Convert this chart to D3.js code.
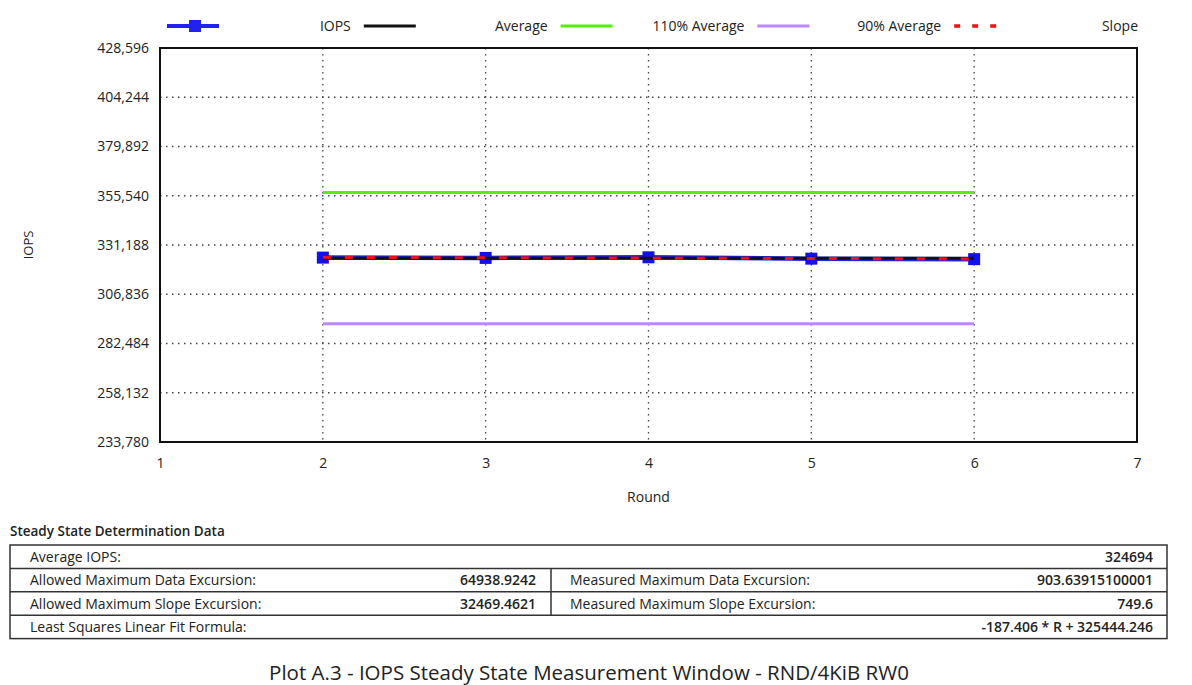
<!DOCTYPE html>
<html>
<head>
<meta charset="utf-8">
<script src="https://cdn.jsdelivr.net/npm/d3@7"></script>
<style>
  body { margin: 0; background: #fff; font-family: "Open Sans", sans-serif; }
  svg text { font-family: "Open Sans", sans-serif; fill: #222; }
</style>
</head>
<body>
<div id="chart"></div>
<script>
// data
const rounds = [2, 3, 4, 5, 6];
const iops = [324950, 324795, 325100, 324429, 324196];
const averageIops = 324694;
const slopeCoef = -187.406;
const slopeIntercept = 325444.246;
const yTicks = [233780, 258132, 282484, 306836, 331188, 355540, 379892, 404244, 428596];
const xTicks = [1, 2, 3, 4, 5, 6, 7];
const legendLabels = ["IOPS", "Average", "110% Average", "90% Average", "Slope"];
const tableRows = [
  ["Average IOPS:", "324694"],
  ["Allowed Maximum Data Excursion:", "64938.9242", "Measured Maximum Data Excursion:", "903.63915100001"],
  ["Allowed Maximum Slope Excursion:", "32469.4621", "Measured Maximum Slope Excursion:", "749.6"],
  ["Least Squares Linear Fit Formula:", "-187.406 * R + 325444.246"]
];
const tableTitle = "Steady State Determination Data";
const plotTitle = "Plot A.3 - IOPS Steady State Measurement Window - RND/4KiB RW0";

const config = {
  width: 1192,
  height: 685,
  margin: { top: 48, right: 55, bottom: 243, left: 160 }
};

const svg = d3.select("#chart").append("svg")
  .attr("width", config.width)
  .attr("height", config.height);

const innerW = config.width - config.margin.left - config.margin.right;
const innerH = config.height - config.margin.top - config.margin.bottom;

const xScale = d3.scaleLinear().domain([1, 7]).range([0, innerW]);
const yScale = d3.scaleLinear().domain([233780, 428596]).range([innerH, 0]);

const chart = svg.append("g")
  .attr("transform", `translate(${config.margin.left},${config.margin.top})`);

// dotted grid
chart.append("g").selectAll("line")
  .data(yTicks.slice(1, -1))
  .join("line")
  .attr("x1", 0).attr("x2", innerW)
  .attr("y1", d => yScale(d)).attr("y2", d => yScale(d))
  .attr("stroke", "#444").attr("stroke-width", 1.3)
  .attr("stroke-dasharray", "1.5,4.5");

chart.append("g").selectAll("line")
  .data(xTicks.slice(1, -1))
  .join("line")
  .attr("x1", d => xScale(d)).attr("x2", d => xScale(d))
  .attr("y1", 0).attr("y2", innerH)
  .attr("stroke", "#444").attr("stroke-width", 1.3)
  .attr("stroke-dasharray", "1.5,4.5");

// axes labels
const yAxis = d3.axisLeft(yScale).tickValues(yTicks).tickFormat(d3.format(",")).tickSize(0).tickPadding(11);
const xAxis = d3.axisBottom(xScale).tickValues(xTicks).tickFormat(d3.format("d")).tickSize(0).tickPadding(16);

chart.append("g").call(yAxis)
  .call(g => g.select(".domain").remove())
  .selectAll("text").style("font-size", "14px").attr("fill", "#222");
chart.append("g").attr("transform", `translate(0,${innerH})`).call(xAxis)
  .call(g => g.select(".domain").remove())
  .selectAll("text").style("font-size", "14px").attr("fill", "#222");

// frame
chart.append("rect")
  .attr("x", 0).attr("y", 0).attr("width", innerW).attr("height", innerH)
  .attr("fill", "none").attr("stroke", "#111").attr("stroke-width", 2);

// reference lines
const flat = v => d3.line().x(d => xScale(d)).y(() => yScale(v))(rounds);
chart.append("path").attr("d", flat(averageIops * 1.1))
  .attr("fill", "none").attr("stroke", "#55ee11").attr("stroke-width", 3);
chart.append("path").attr("d", flat(averageIops * 0.9))
  .attr("fill", "none").attr("stroke", "#bb88ff").attr("stroke-width", 3);

// iops series
const iopsLine = d3.line().x((d, i) => xScale(rounds[i])).y(d => yScale(d));
chart.append("path").attr("d", iopsLine(iops))
  .attr("fill", "none").attr("stroke", "#2222ee").attr("stroke-width", 4.5);
chart.selectAll(".pt").data(iops).join("rect")
  .attr("class", "pt")
  .attr("x", (d, i) => xScale(rounds[i]) - 6)
  .attr("y", d => yScale(d) - 6)
  .attr("width", 12).attr("height", 12)
  .attr("fill", "#1111ee");

chart.append("path").attr("d", flat(averageIops))
  .attr("fill", "none").attr("stroke", "#111").attr("stroke-width", 3);

const slopeLine = d3.line().x(d => xScale(d)).y(d => yScale(slopeCoef * d + slopeIntercept));
chart.append("path").attr("d", slopeLine(rounds))
  .attr("fill", "none").attr("stroke", "#ee1111").attr("stroke-width", 3)
  .attr("stroke-dasharray", "8,14");

// axis titles
svg.append("text")
  .attr("x", config.margin.left + innerW / 2).attr("y", 502)
  .attr("text-anchor", "middle").style("font-size", "14px").text("Round");
svg.append("text")
  .attr("transform", `translate(33,${config.margin.top + innerH / 2}) rotate(-90)`)
  .attr("text-anchor", "middle").style("font-size", "13px").text("IOPS");

// legend (labels sit to the right of the previous symbol)
const legendStyles = [
  { color: "#2222ee", width: 4, dash: null, marker: true },
  { color: "#111", width: 3, dash: null },
  { color: "#55ee11", width: 3, dash: null },
  { color: "#bb88ff", width: 3, dash: null },
  { color: "#ee1111", width: 3.5, dash: "6,12" }
];
const legendX = 167, legendStep = 196.8, legendY = 26;
const legend = svg.append("g");
legendStyles.forEach((s, i) => {
  const x0 = legendX + i * legendStep;
  legend.append("line")
    .attr("x1", x0).attr("x2", x0 + 52)
    .attr("y1", legendY).attr("y2", legendY)
    .attr("stroke", s.color).attr("stroke-width", s.width)
    .attr("stroke-dasharray", s.dash);
  if (s.marker) {
    legend.append("rect")
      .attr("x", x0 + 22).attr("y", legendY - 6)
      .attr("width", 12).attr("height", 12).attr("fill", s.color);
  }
  legend.append("text")
    .attr("x", legendX + (i + 1) * legendStep - 13)
    .attr("y", legendY + 5)
    .attr("text-anchor", "end")
    .style("font-size", "14px")
    .text(legendLabels[i]);
});

// steady state table
svg.append("text")
  .attr("x", 10).attr("y", 536)
  .style("font-size", "13.5px").style("font-weight", 600)
  .text(tableTitle);

const tX = 10, tW = 1157, tY = 545, rowH = 23.4, splitX = 551;
const table = svg.append("g");
table.append("rect")
  .attr("x", tX).attr("y", tY).attr("width", tW).attr("height", rowH * tableRows.length)
  .attr("fill", "none").attr("stroke", "#333").attr("stroke-width", 1.5);

tableRows.forEach((row, i) => {
  const y = tY + i * rowH;
  if (i > 0) {
    table.append("line")
      .attr("x1", tX).attr("x2", tX + tW).attr("y1", y).attr("y2", y)
      .attr("stroke", "#333").attr("stroke-width", 1.5);
  }
  const ty = y + rowH / 2 + 5;
  table.append("text").attr("x", 30).attr("y", ty).style("font-size", "14px").text(row[0]);
  if (row.length === 2) {
    table.append("text").attr("x", 1153).attr("y", ty).attr("text-anchor", "end")
      .style("font-size", "14px").style("font-weight", 600).text(row[1]);
  } else {
    table.append("line")
      .attr("x1", splitX).attr("x2", splitX).attr("y1", y).attr("y2", y + rowH)
      .attr("stroke", "#333").attr("stroke-width", 1.5);
    table.append("text").attr("x", 536).attr("y", ty).attr("text-anchor", "end")
      .style("font-size", "14px").style("font-weight", 600).text(row[1]);
    table.append("text").attr("x", 570).attr("y", ty).style("font-size", "14px").text(row[2]);
    table.append("text").attr("x", 1153).attr("y", ty).attr("text-anchor", "end")
      .style("font-size", "14px").style("font-weight", 600).text(row[3]);
  }
});

svg.append("text")
  .attr("x", 589).attr("y", 680)
  .attr("text-anchor", "middle")
  .style("font-size", "20.5px")
  .style("font-weight", 500)
  .attr("fill", "#111")
  .text(plotTitle);
</script>
</body>
</html>
